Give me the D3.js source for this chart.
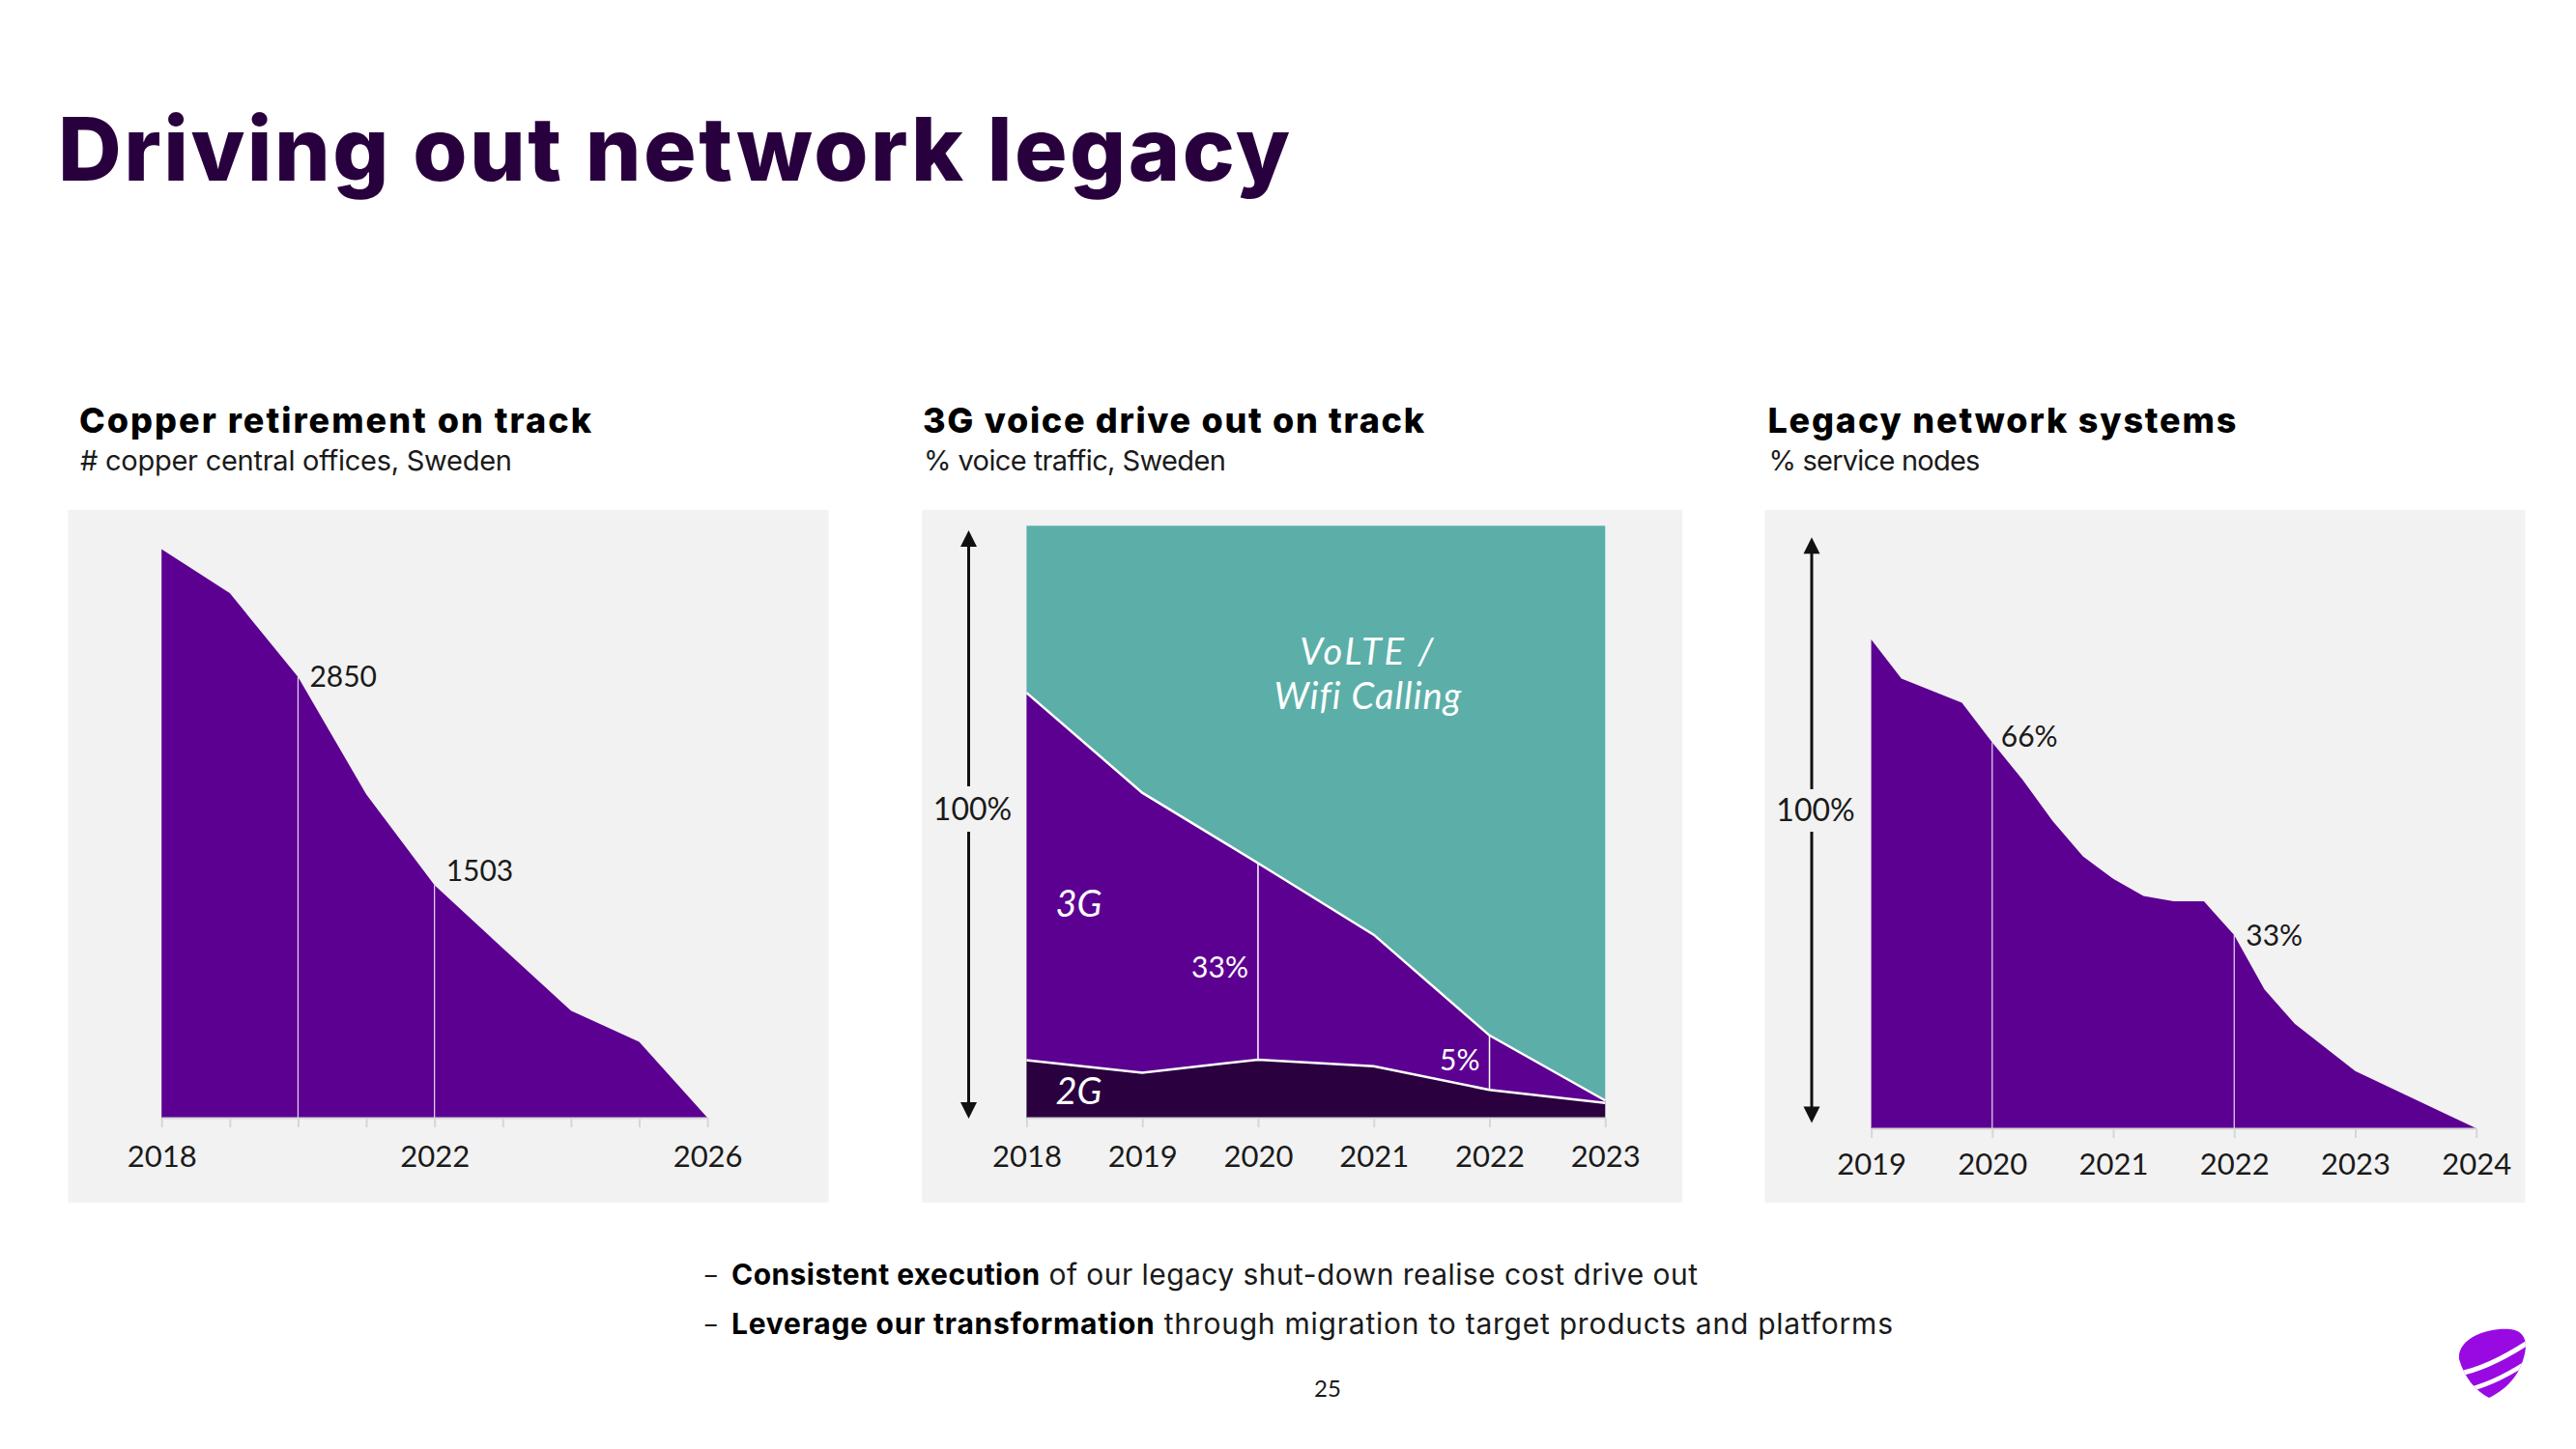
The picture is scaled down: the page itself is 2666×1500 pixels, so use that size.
<!DOCTYPE html>
<html><head><meta charset="utf-8">
<script src="https://cdn.jsdelivr.net/npm/d3@7"></script>
<style>
body{margin:0;background:#fff;}
svg{display:block;}
text{font-family:Lato,"Open Sans",sans-serif;}
.hd{font-family:Inter,"Open Sans",sans-serif;}
.it{font-family:Lato,"Open Sans",sans-serif;}
</style>
</head><body>
<svg id="c" width="2666" height="1500"></svg>
<script>
// ---------------- DATA ----------------
const copperYears = [2018,2019,2020,2021,2022,2023,2024,2025,2026];
const copperOffices = [3676,3391,2850,2090,1503,1096,692,490,0];
const copperMarkedYears = [2020,2022];
const copperMarkedLabels = ["2850","1503"];
const copperTickLabels = {2018:"2018",2022:"2022",2026:"2026"};

const voiceYears = [2018,2019,2020,2021,2022,2023];
const voice2G = [9.7,7.6,9.8,8.7,4.7,2.5];
const voice3G = [62.1,47.3,33.2,22.2,9.2,0.4];
const voiceVoLTE = [28.2,45.1,57.0,69.1,86.1,97.1];
const voiceMarkedYears = [2020,2022];
const voiceMarkedLabels = ["33%","5%"];

const legacyTime = [2019,2019.25,2019.75,2020,2020.25,2020.5,2020.75,2021,2021.25,2021.5,2021.75,2022,2022.25,2022.5,2023,2024];
const legacyShare = [82.7,76.1,72.0,65.3,59.0,52.0,46.0,42.2,39.3,38.4,38.4,32.7,23.5,17.7,9.7,0];
const legacyYears = [2019,2020,2021,2022,2023,2024];
const legacyMarkedYears = [2020,2022];
const legacyMarkedLabels = ["66%","33%"];

const pageTitle = "Driving out network legacy";
const panelTitles = ["Copper retirement on track","3G voice drive out on track","Legacy network systems"];
const panelSubtitles = ["# copper central offices, Sweden","% voice traffic, Sweden","% service nodes"];
const bulletBold = ["Consistent execution","Leverage our transformation"];
const bulletRest = [" of our legacy shut-down realise cost drive out"," through migration to target products and platforms"];
const pageNumber = "25";

// ---------------- STYLE ----------------
const C = {title:"#29003E", purple:"#5C0092", dark:"#2A003F", teal:"#5BAFA8", bg:"#F2F2F2", text:"#1a1a1a", axis:"#d6d6d6", logo:"#990AE3"};
const svg = d3.select("#c");

// fit a text's width by adjusting letter-spacing only
function fit(sel, target){
  const n = sel.text().length;
  const w = sel.node().getComputedTextLength();
  sel.attr("letter-spacing", ((target - w) / Math.max(1, n - 1)).toFixed(3));
  return sel;
}

fit(svg.append("text").attr("class","hd").attr("x",60).attr("y",187).attr("font-size",91).attr("font-weight",800)
  .attr("fill",C.title).text(pageTitle), 1275);

const panelX = [70.5,954.2,1826.3];
const titleX = [82,955,1829.4];
const titleW = [530,519,485];
const subW = [447,313,219];
panelX.forEach((px,i)=>{
  svg.append("rect").attr("x",px).attr("y",527.8).attr("width",787).attr("height",717).attr("fill",C.bg);
  fit(svg.append("text").attr("class","hd").attr("x",titleX[i]).attr("y",448).attr("font-size",36).attr("font-weight",800)
    .attr("fill","#000").text(panelTitles[i]), titleW[i]);
  fit(svg.append("text").attr("class","hd").attr("x",titleX[i]+1).attr("y",487).attr("font-size",29)
    .attr("fill",C.text).text(panelSubtitles[i]), subW[i]);
});

function styleAxis(g){
  g.select(".domain").attr("stroke",C.axis).attr("stroke-width",2);
  g.selectAll(".tick line").attr("stroke",C.axis).attr("stroke-width",2);
  g.selectAll(".tick text").attr("font-size",31).attr("fill",C.text).attr("font-family","Lato, sans-serif");
}

function arrow(g,x,y1,y2,gapTop,gapBot,label){
  g.append("line").attr("x1",x).attr("x2",x).attr("y1",y1+12).attr("y2",gapTop).attr("stroke","#111").attr("stroke-width",3);
  g.append("line").attr("x1",x).attr("x2",x).attr("y1",gapBot).attr("y2",y2-12).attr("stroke","#111").attr("stroke-width",3);
  g.append("path").attr("d",`M${x},${y1}L${x-8.5},${y1+17}L${x+8.5},${y1+17}Z`).attr("fill","#111");
  g.append("path").attr("d",`M${x},${y2}L${x-8.5},${y2-17}L${x+8.5},${y2-17}Z`).attr("fill","#111");
  g.append("text").attr("x",x+4).attr("y",(gapTop+gapBot)/2).attr("dy","0.35em").attr("text-anchor","middle")
    .attr("font-size",32).attr("fill",C.text).text(label);
}

// ---------------- PANEL 1 ----------------
{
  const x = d3.scaleLinear().domain([2018,2026]).range([167.2,732.1]);
  const y = d3.scaleLinear().domain([0,3676]).range([1157,568.4]);
  const data = copperYears.map((yr,i)=>({yr,v:copperOffices[i]}));
  const g = svg.append("g");
  g.append("path").datum(data).attr("fill",C.purple)
    .attr("d",d3.area().x(d=>x(d.yr)).y0(y(0)).y1(d=>y(d.v)));
  copperMarkedYears.forEach((yr,i)=>{
    const v = copperOffices[copperYears.indexOf(yr)];
    g.append("line").attr("x1",x(yr)).attr("x2",x(yr)).attr("y1",y(v)).attr("y2",y(0))
      .attr("stroke","#fff").attr("stroke-width",1.2).attr("opacity",0.85);
    g.append("text").attr("x",x(yr)+12).attr("y",y(v)+[10,-4][i]).attr("font-size",30)
      .attr("fill",C.text).text(copperMarkedLabels[i]);
  });
  const ax = g.append("g").attr("transform",`translate(0,${y(0)})`)
    .call(d3.axisBottom(x).tickValues(copperYears).tickSize(10).tickSizeOuter(0).tickPadding(19)
      .tickFormat(d=>copperTickLabels[d]||""));
  styleAxis(ax);
}

// ---------------- PANEL 2 ----------------
{
  const x = d3.scaleLinear().domain([2018,2023]).range([1062.4,1661.3]);
  const y = d3.scaleLinear().domain([0,100]).range([1157,544.3]);
  const rows = voiceYears.map((yr,i)=>({yr,g2:voice2G[i],g3:voice3G[i],volte:voiceVoLTE[i]}));
  const stack = d3.stack().keys(["g2","g3","volte"])(rows);
  const colors = {g2:C.dark,g3:C.purple,volte:C.teal};
  const g = svg.append("g");
  g.selectAll("path.layer").data(stack).join("path").attr("class","layer")
    .attr("fill",d=>colors[d.key])
    .attr("d",d3.area().x(d=>x(d.data.yr)).y0(d=>y(d[0])).y1(d=>y(d[1])));
  [0,1].forEach(li=>{
    g.append("path").datum(stack[li]).attr("fill","none").attr("stroke","#fff").attr("stroke-width",2.5)
      .attr("d",d3.line().x(d=>x(d.data.yr)).y(d=>y(d[1])));
  });
  voiceMarkedYears.forEach((yr,i)=>{
    const k = voiceYears.indexOf(yr);
    const lo = stack[1][k][0], hi = stack[1][k][1];
    g.append("line").attr("x1",x(yr)).attr("x2",x(yr)).attr("y1",y(hi)).attr("y2",y(lo))
      .attr("stroke","#fff").attr("stroke-width",1.5);
    g.append("text").attr("x",x(yr)-10).attr("y",y((lo+hi)/2)).attr("dy",["0.55em","0.25em"][i])
      .attr("text-anchor","end").attr("font-size",30).attr("fill","#fff").text(voiceMarkedLabels[i]);
  });
  const lab = (t,xx,yy,anchor,w)=>{
    const s = g.append("text").attr("class","it").attr("x",xx).attr("y",yy).attr("text-anchor",anchor)
      .attr("font-size",38).attr("font-style","italic").attr("fill","#fff").text(t);
    if (w) fit(s,w);
    return s;
  };
  lab("VoLTE /",x(2020.95),y(76.5),"middle",138);
  lab("Wifi Calling",x(2020.95),y(69),"middle",193);
  lab("3G",x(2018)+30,y(34),"start");
  lab("2G",x(2018)+30,y(2.3),"start");
  const ax = g.append("g").attr("transform",`translate(0,${y(0)})`)
    .call(d3.axisBottom(x).tickValues(voiceYears).tickSize(10).tickSizeOuter(0).tickPadding(19).tickFormat(d3.format("d")));
  styleAxis(ax);
  arrow(g,1002.5,549,1158,814,861,"100%");
}

// ---------------- PANEL 3 ----------------
{
  const x = d3.scaleLinear().domain([2019,2024]).range([1936.6,2562.7]);
  const y = d3.scaleLinear().domain([0,100]).range([1168,556.3]);
  const data = legacyTime.map((t,i)=>({t,v:legacyShare[i]}));
  const g = svg.append("g");
  g.append("path").datum(data).attr("fill",C.purple)
    .attr("d",d3.area().x(d=>x(d.t)).y0(y(0)).y1(d=>y(d.v)));
  legacyMarkedYears.forEach((yr,i)=>{
    const v = legacyShare[legacyTime.indexOf(yr)];
    g.append("line").attr("x1",x(yr)).attr("x2",x(yr)).attr("y1",y(v)).attr("y2",y(0))
      .attr("stroke","#fff").attr("stroke-width",1.2).attr("opacity",0.85);
    g.append("text").attr("x",x(yr)+[9,12][i]).attr("y",y(v)+[4,11][i]).attr("font-size",30)
      .attr("fill",C.text).text(legacyMarkedLabels[i]);
  });
  const ax = g.append("g").attr("transform",`translate(0,${y(0)})`)
    .call(d3.axisBottom(x).tickValues(legacyYears).tickSize(10).tickSizeOuter(0).tickPadding(16).tickFormat(d3.format("d")));
  styleAxis(ax);
  arrow(g,1875,556.3,1162.5,817,861,"100%");
}

// ---------------- BULLETS ----------------
const bulletW = [1000,1202];
[1330,1381].forEach((yy,i)=>{
  svg.append("text").attr("x",727).attr("y",yy).attr("font-size",30).attr("fill",C.text).text("–");
  const t = svg.append("text").attr("class","hd").attr("x",757).attr("y",yy).attr("font-size",30).attr("fill","#000");
  t.append("tspan").attr("font-weight",700).text(bulletBold[i]);
  t.append("tspan").attr("fill",C.text).text(bulletRest[i]);
  fit(t, bulletW[i]);
});
svg.append("text").attr("x",1374).attr("y",1446).attr("text-anchor","middle").attr("font-size",24)
  .attr("fill",C.text).text(pageNumber);

// ---------------- LOGO ----------------
const defs = svg.append("defs");
defs.append("clipPath").attr("id","lg").append("path")
  .attr("d","M2545,1407 C2543,1385 2575,1374 2598,1376 C2615,1378 2616,1392 2612,1405 C2606,1428 2590,1440 2576,1447 C2562,1440 2550,1425 2545,1407 Z");
const lg = svg.append("g").attr("clip-path","url(#lg)");
lg.append("rect").attr("x",2530).attr("y",1360).attr("width",100).attr("height",100).attr("fill",C.logo);
lg.append("path").attr("d","M2538,1423 C2565,1420 2595,1404 2622,1386").attr("stroke","#fff").attr("stroke-width",5).attr("fill","none");
lg.append("path").attr("d","M2548,1440 C2575,1435 2600,1421 2622,1406").attr("stroke","#fff").attr("stroke-width",4.5).attr("fill","none");
</script>
</body></html>
